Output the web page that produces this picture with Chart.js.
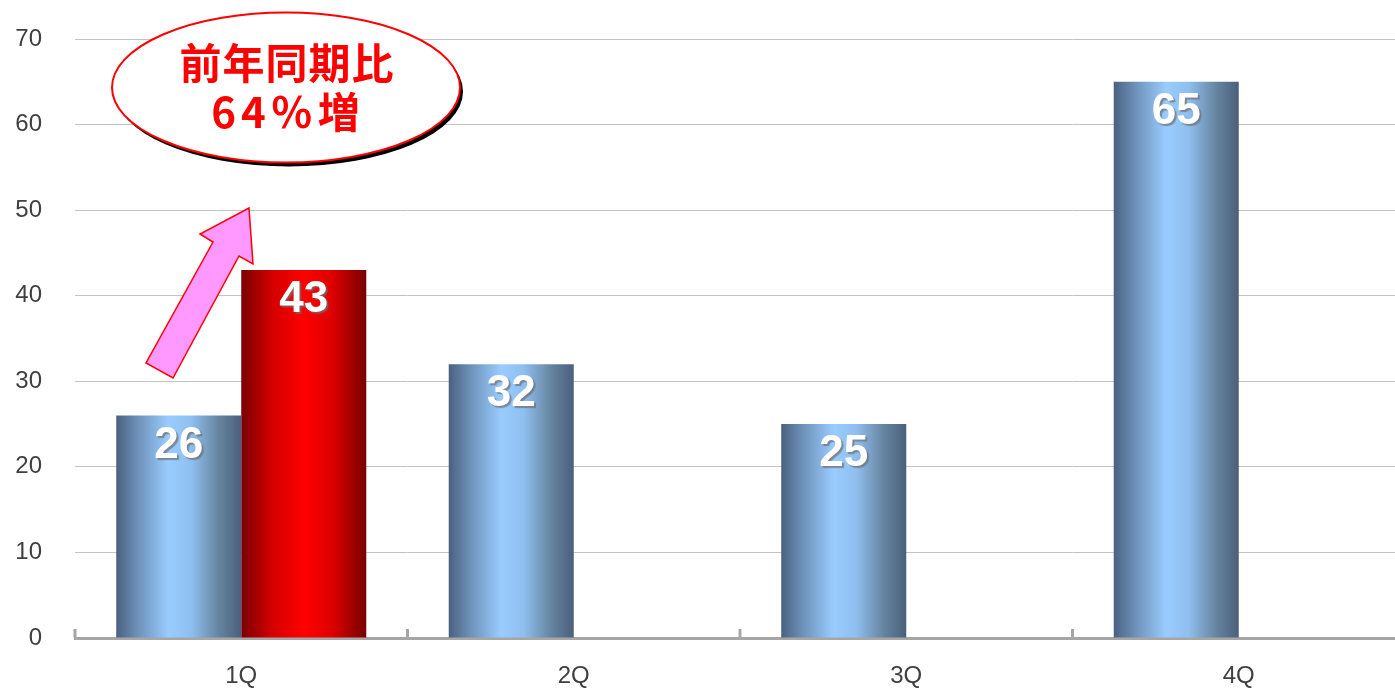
<!DOCTYPE html>
<html lang="ja">
<head>
<meta charset="utf-8">
<title>四半期推移</title>
<script src="https://cdn.jsdelivr.net/npm/chart.js@4"></script>
<style>
  html, body { margin: 0; padding: 0; background: #fff; overflow: hidden; }
  #wrap { position: relative; width: 1405px; height: 688px; }
</style>
</head>
<body>
<div id="wrap"><canvas id="quarterChart"></canvas></div>
<script>
const quarters = ["1Q", "2Q", "3Q", "4Q"];
const lastYear = [26, 32, 25, 65];
const thisYear = [43, null, null, null];
const yMax = 70;
const yStep = 10;
const calloutLines = ["前年同期比", "64％増"];

// horizontal "cylinder" shading for each series
const barStops = [
  [[0, "#4a6180"], [0.18, "#6f93bb"], [0.42, "#99ccff"], [0.6, "#8fbfef"], [0.82, "#66849f"], [1, "#4a5f7c"]],
  [[0, "#7a0000"], [0.25, "#d40000"], [0.5, "#ff0000"], [0.72, "#e00000"], [1, "#780000"]]
];

const gradientBars = {
  id: "gradientBars",
  beforeDatasetsDraw(chart) {
    const ctx = chart.ctx;
    chart.data.datasets.forEach((ds, i) => {
      chart.getDatasetMeta(i).data.forEach(el => {
        if (!Number.isFinite(el.x) || !Number.isFinite(el.width)) return;
        const g = ctx.createLinearGradient(el.x - el.width / 2, 0, el.x + el.width / 2, 0);
        barStops[i].forEach(([o, c]) => g.addColorStop(o, c));
        el.options.backgroundColor = g;
      });
    });
  }
};

const valueLabels = {
  id: "valueLabels",
  afterDatasetsDraw(chart) {
    const ctx = chart.ctx;
    ctx.save();
    ctx.font = "bold 44px 'Liberation Sans', Arial, sans-serif";
    ctx.textAlign = "center";
    ctx.textBaseline = "middle";
    ctx.fillStyle = "#ffffff";
    ctx.shadowColor = "rgba(110, 110, 110, 0.7)";
    ctx.shadowOffsetX = 2;
    ctx.shadowOffsetY = 2;
    ctx.shadowBlur = 1;
    chart.data.datasets.forEach((ds, i) => {
      chart.getDatasetMeta(i).data.forEach((el, j) => {
        const v = ds.data[j];
        if (v == null) return;
        ctx.fillText(String(v), el.x, el.y + 30);
      });
    });
    ctx.restore();
  }
};

// short upward ticks on the category boundaries
const axisTicks = {
  id: "axisTicks",
  afterDraw(chart) {
    const xs = chart.scales.x;
    const { ctx, chartArea } = chart;
    const band = xs.getPixelForValue(1) - xs.getPixelForValue(0);
    ctx.save();
    ctx.strokeStyle = "#a6a6a6";
    ctx.lineWidth = 3;
    for (let i = 0; i <= quarters.length; i++) {
      const x = xs.getPixelForValue(0) - band / 2 + i * band;
      ctx.beginPath();
      ctx.moveTo(x, chartArea.bottom);
      ctx.lineTo(x, chartArea.bottom - 9);
      ctx.stroke();
    }
    ctx.restore();
  }
};

// speech bubble and the rising arrow over 1Q
const callout = {
  id: "callout",
  afterDraw(chart) {
    const { ctx, chartArea } = chart;
    const ox = chartArea.left;
    const oy = chartArea.top;
    ctx.save();

    const arrow = [[174, 169], [178, 225], [164, 217], [98, 339], [71, 324], [138, 203], [125, 195]];
    ctx.beginPath();
    arrow.forEach(([x, y], k) => (k ? ctx.lineTo(ox + x, oy + y) : ctx.moveTo(ox + x, oy + y)));
    ctx.closePath();
    ctx.fillStyle = "#ff99ff";
    ctx.fill();
    ctx.lineWidth = 1.5;
    ctx.strokeStyle = "#ff0000";
    ctx.stroke();

    const cx = ox + 211, cy = oy + 48.5, rx = 174, ry = 75;
    ctx.beginPath();
    ctx.ellipse(cx + 3, cy + 4, rx, ry, 0, 0, Math.PI * 2);
    ctx.fillStyle = "#000000";
    ctx.fill();
    ctx.beginPath();
    ctx.ellipse(cx, cy, rx, ry, 0, 0, Math.PI * 2);
    ctx.fillStyle = "#ffffff";
    ctx.fill();
    ctx.lineWidth = 2;
    ctx.strokeStyle = "#ff0000";
    ctx.stroke();

    ctx.fillStyle = "#ff0000";
    ctx.textAlign = "center";
    ctx.textBaseline = "middle";
    ctx.font = "bold 42px 'Noto Sans CJK JP', sans-serif";
    ctx.letterSpacing = "1px";
    ctx.fillText(calloutLines[0], cx + 1, cy - 24);
    ctx.letterSpacing = "5px";
    ctx.fillText(calloutLines[1], cx + 2, cy + 25);
    ctx.restore();
  }
};

const chartCTX = document.getElementById("quarterChart").getContext("2d");

const quarterChart = new Chart(chartCTX, {
  type: "bar",
  data: {
    labels: quarters,
    datasets: [
      { label: "前年", data: lastYear, backgroundColor: () => "#7fa8d8" },
      { label: "今年", data: thisYear, backgroundColor: () => "#e00000" }
    ]
  },
  options: {
    responsive: true,
    maintainAspectRatio: false,
    animation: false,
    events: [],
    categoryPercentage: 0.752,
    barPercentage: 1.0,
    layout: { padding: { top: 39, right: 0, bottom: 0, left: 0 } },
    plugins: {
      legend: { display: false },
      tooltip: { enabled: false }
    },
    scales: {
      x: {
        grid: { display: false, drawTicks: false },
        border: { display: true, color: "#a6a6a6", width: 3 },
        ticks: {
          color: "#404040",
          padding: 24,
          font: { family: "'Liberation Sans', Arial, sans-serif", size: 24 }
        },
        afterFit(scale) { scale.height = 50; }
      },
      y: {
        min: 0,
        max: yMax,
        grid: { color: "#c4c4c4", lineWidth: 1, drawTicks: false },
        border: { display: false },
        ticks: {
          stepSize: yStep,
          color: "#404040",
          padding: 33,
          font: { family: "'Liberation Sans', Arial, sans-serif", size: 24 }
        },
        afterFit(scale) {
          scale.width = 75;
          scale.paddingTop = 0;
          scale.paddingBottom = 0;
        }
      }
    }
  },
  plugins: [gradientBars, valueLabels, axisTicks, callout]
});
</script>
</body>
</html>
